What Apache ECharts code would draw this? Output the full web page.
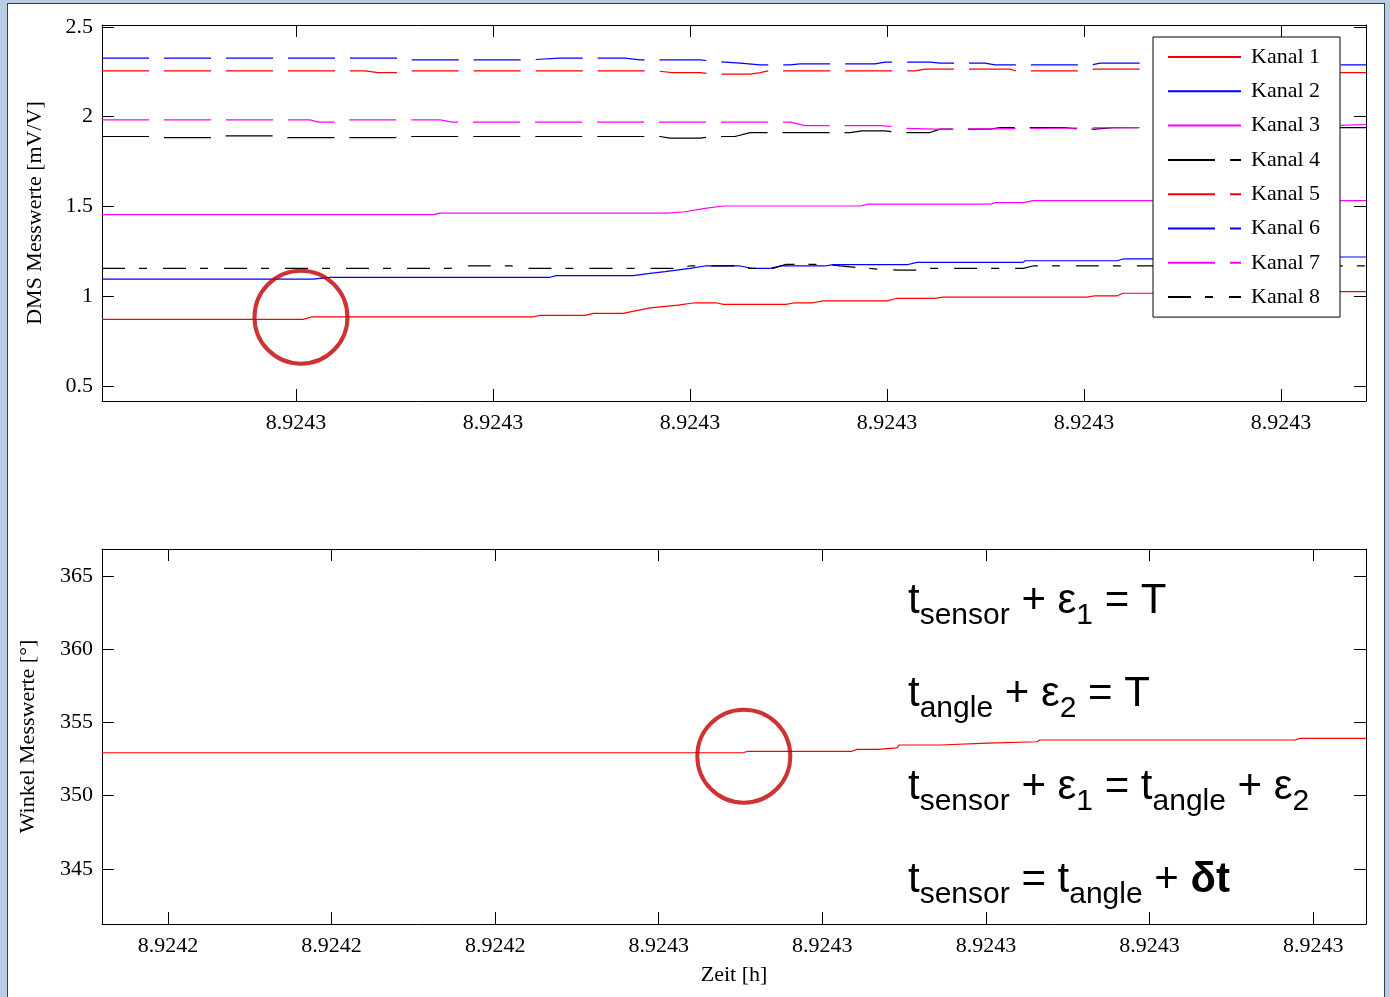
<!DOCTYPE html>
<html>
<head>
<meta charset="utf-8">
<script src="https://cdn.jsdelivr.net/npm/echarts@6/dist/echarts.min.js"></script>
<style>
  html, body { margin: 0; padding: 0; background: #b8cce4; overflow: hidden; }
  #frame { position: absolute; left: 7px; top: 3px; width: 1376px; height: 1000px; background: #fff; border: 1px solid #3c3c3c; }
  #chart { position: absolute; left: 0; top: 0; width: 1390px; height: 997px; }
</style>
</head>
<body>
<div id="frame"></div>
<div id="chart"></div>
<script>
// x is in tick units (tick index), labels come from the arrays below
const topXLabels = ['8.9243', '8.9243', '8.9243', '8.9243', '8.9243', '8.9243']
const bottomXLabels = ['8.9242', '8.9242', '8.9242', '8.9243', '8.9243', '8.9243', '8.9243', '8.9243']
const topYTicks = [0.5, 1, 1.5, 2, 2.5]
const bottomYTicks = [345, 350, 355, 360, 365]

const kanalNames = ['Kanal 1', 'Kanal 2', 'Kanal 3', 'Kanal 4', 'Kanal 5', 'Kanal 6', 'Kanal 7', 'Kanal 8']
const kanalColors = ['#ff0000', '#0000ff', '#ff00ff', '#000000', '#ff0000', '#0000ff', '#ff00ff', '#000000']

const kanal1 = [[-0.985,0.871],[0.036,0.871],[0.081,0.885],[1.203,0.885],[1.239,0.893],[1.467,0.893],[1.51,0.904],[1.66,0.904],[1.797,0.935],[1.939,0.950],[2.025,0.963],[2.132,0.963],[2.168,0.954],[2.487,0.954],[2.533,0.963],[2.624,0.963],[2.675,0.974],[3.0,0.974],[3.051,0.988],[3.244,0.988],[3.284,0.995],[4.015,0.995],[4.056,1.002],[4.168,1.002],[4.198,1.016],[4.8,1.016],[4.85,1.025],[5.431,1.025]]
const kanal2 = [[-0.985,1.095],[0.086,1.095],[0.173,1.105],[1.289,1.105],[1.320,1.114],[1.711,1.114],[1.797,1.127],[1.873,1.136],[2.0,1.155],[2.076,1.168],[2.254,1.168],[2.315,1.155],[2.406,1.155],[2.457,1.168],[2.685,1.168],[2.726,1.175],[3.102,1.175],[3.152,1.188],[3.690,1.188],[3.701,1.197],[4.168,1.197],[4.198,1.207],[4.7,1.207],[4.75,1.218],[5.431,1.218]]
const kanal3 = [[-0.985,1.454],[0.695,1.454],[0.731,1.462],[1.888,1.462],[1.975,1.470],[2.076,1.489],[2.168,1.502],[2.863,1.502],[2.904,1.512],[3.523,1.512],[3.55,1.521],[3.690,1.521],[3.741,1.532],[5.431,1.532]]
const kanal4 = [[-0.985,1.889],[-0.741,1.889],[-0.69,1.883],[-0.411,1.883],[-0.386,1.893],[-0.107,1.893],[-0.081,1.883],[0.5,1.883],[0.579,1.889],[1.848,1.889],[1.898,1.880],[2.05,1.880],[2.127,1.889],[2.228,1.889],[2.305,1.911],[2.812,1.911],[2.873,1.920],[2.99,1.920],[3.066,1.911],[3.218,1.911],[3.269,1.930],[3.523,1.930],[3.574,1.939],[3.904,1.939],[3.97,1.930],[4.056,1.930],[4.15,1.939],[5.431,1.939]]
const kanal5 = [[-0.985,2.255],[0.35,2.255],[0.416,2.245],[0.528,2.245],[0.569,2.255],[1.822,2.255],[1.909,2.245],[2.051,2.245],[2.112,2.236],[2.305,2.236],[2.355,2.245],[2.4,2.255],[3.142,2.255],[3.193,2.264],[3.624,2.264],[3.65,2.255],[3.98,2.255],[4.03,2.264],[4.843,2.264],[4.893,2.245],[5.431,2.245]]
const kanal6 = [[-0.985,2.326],[0.528,2.326],[0.553,2.316],[1.188,2.316],[1.34,2.326],[1.67,2.326],[1.746,2.316],[2.051,2.316],[2.127,2.307],[2.254,2.298],[2.355,2.288],[2.508,2.288],[2.558,2.294],[2.939,2.294],[2.99,2.303],[3.218,2.303],[3.269,2.298],[3.497,2.298],[3.548,2.288],[4.041,2.288],[4.081,2.298],[4.6,2.298],[4.7,2.288],[5.431,2.288]]
const kanal7 = [[-0.985,1.982],[0.071,1.982],[0.112,1.969],[0.213,1.969],[0.249,1.982],[0.731,1.982],[0.792,1.969],[2.508,1.969],[2.584,1.950],[2.964,1.950],[3.03,1.944],[3.091,1.935],[3.244,1.930],[3.523,1.932],[3.802,1.935],[4.5,1.940],[5.1,1.944],[5.431,1.956]]
const kanal8 = [[-0.985,1.155],[0.782,1.155],[0.858,1.168],[1.096,1.168],[1.137,1.155],[1.914,1.155],[2.0,1.168],[2.228,1.168],[2.279,1.155],[2.421,1.155],[2.487,1.177],[2.675,1.177],[2.761,1.168],[2.964,1.149],[3.066,1.145],[3.142,1.145],[3.218,1.155],[3.69,1.155],[3.741,1.168],[5.431,1.168]]

const winkel = [[-0.403,352.93],[3.515,352.93],[3.545,353.03],[4.181,353.03],[4.212,353.16],[4.34,353.16],[4.352,353.27],[4.456,353.27],[4.47,353.46],[4.719,353.46],[4.73,353.59],[5.012,353.59],[5.02,353.68],[5.312,353.68],[5.33,353.80],[6.889,353.80],[6.919,353.91],[7.323,353.91]]

// red marker circles (sync points)
const markTop = [[0.025, 0.883]]
const markBottom = [[3.52, 352.7]]

const formulaLines = [
  '{m|t}{s|sensor}{m| + ε}{s|1}{m| = T}',
  '{m|t}{s|angle}{m| + ε}{s|2}{m| = T}',
  '{m|t}{s|sensor}{m| + ε}{s|1}{m| = t}{s|angle}{m| + ε}{s|2}',
  '{m|t}{s|sensor}{m| = t}{s|angle}{m| + }{b|δt}'
]

const kanalData = [kanal1, kanal2, kanal3, kanal4, kanal5, kanal6, kanal7, kanal8]
const dashes = ['solid', 'solid', 'solid', [47, 15], [47, 15], [47, 15], [47, 15], [23, 14, 8, 16]]

const serif = 'Liberation Serif'
const sans = 'Liberation Sans'

function xAx(grid, min, max, ticks, labels, pos, name) {
  return {
    type: 'value', gridIndex: grid, position: pos, min: min, max: max,
    name: name || '', nameLocation: 'middle', nameGap: 40,
    nameTextStyle: { fontFamily: serif, fontSize: 22, color: '#000' },
    axisLine: { show: true, onZero: false, lineStyle: { color: '#000', width: 1 } },
    axisTick: { show: true, inside: true, length: 12, customValues: ticks, lineStyle: { color: '#000' } },
    axisLabel: {
      show: !!labels, customValues: ticks, margin: 11,
      fontFamily: serif, fontSize: 22, color: '#000',
      formatter: (v) => labels ? labels[Math.round(v)] : ''
    },
    splitLine: { show: false }
  }
}

function yAx(grid, min, max, ticks, showLabels, pos, name, gap) {
  return {
    type: 'value', gridIndex: grid, position: pos, min: min, max: max,
    name: name || '', nameLocation: 'middle', nameGap: gap || 50,
    nameTextStyle: { fontFamily: serif, fontSize: 22, color: '#000' },
    axisLine: { show: true, onZero: false, lineStyle: { color: '#000', width: 1 } },
    axisTick: { show: true, inside: true, length: 12, customValues: ticks, lineStyle: { color: '#000' } },
    axisLabel: {
      show: showLabels, customValues: ticks, margin: 9,
      fontFamily: serif, fontSize: 22, color: '#000'
    },
    splitLine: { show: false }
  }
}

const series = kanalData.map((d, i) => ({
  name: kanalNames[i],
  type: 'line',
  xAxisIndex: 0, yAxisIndex: 0,
  data: d,
  symbol: 'none',
  lineStyle: { color: kanalColors[i], width: 1.2, type: dashes[i] },
  itemStyle: { color: kanalColors[i] }
}))

series.push({
  name: 'Winkel', type: 'line', xAxisIndex: 2, yAxisIndex: 2,
  data: winkel, symbol: 'none',
  lineStyle: { color: '#ff0000', width: 1.2 }
})

const circleStyle = { color: 'rgba(0,0,0,0)', borderColor: '#c00000', borderWidth: 4 }
series.push({
  name: 'markTop', type: 'scatter', xAxisIndex: 0, yAxisIndex: 0, data: markTop,
  symbol: 'circle', symbolSize: 93, itemStyle: circleStyle, silent: true, z: 10
})
series.push({
  name: 'markBottom', type: 'scatter', xAxisIndex: 2, yAxisIndex: 2, data: markBottom,
  symbol: 'circle', symbolSize: 93, itemStyle: circleStyle, silent: true, z: 10
})

const rich = {
  m: { fontFamily: sans, fontSize: 42, lineHeight: 42, verticalAlign: 'top', color: '#000' },
  s: { fontFamily: sans, fontSize: 30, lineHeight: 30, verticalAlign: 'top', padding: [21, 0, 0, 0], color: '#000' },
  b: { fontFamily: sans, fontSize: 42, lineHeight: 42, verticalAlign: 'top', fontWeight: 'bold', color: '#000' }
}

const option = {
  animation: false,
  backgroundColor: 'transparent',
  grid: [
    { left: 102, top: 25, width: 1264, height: 376 },
    { left: 102, top: 549, width: 1264, height: 375 }
  ],
  xAxis: [
    xAx(0, -0.985, 5.431, [0, 1, 2, 3, 4, 5], topXLabels, 'bottom'),
    xAx(0, -0.985, 5.431, [0, 1, 2, 3, 4, 5], null, 'top'),
    xAx(1, -0.403, 7.323, [0, 1, 2, 3, 4, 5, 6, 7], bottomXLabels, 'bottom', 'Zeit [h]'),
    xAx(1, -0.403, 7.323, [0, 1, 2, 3, 4, 5, 6, 7], null, 'top')
  ],
  yAxis: [
    yAx(0, 0.416, 2.51, topYTicks, true, 'left', 'DMS Messwerte [mV/V]', 56),
    yAx(0, 0.416, 2.51, topYTicks, false, 'right'),
    yAx(1, 341.24, 366.84, bottomYTicks, true, 'left', 'Winkel Messwerte [°]', 63),
    yAx(1, 341.24, 366.84, bottomYTicks, false, 'right')
  ],
  legend: {
    data: kanalNames,
    orient: 'vertical',
    left: 1153, top: 37,
    itemWidth: 73, itemHeight: 20, itemGap: 12.3,
    padding: [9, 20, 9, 14],
    backgroundColor: '#fff', borderColor: '#000', borderWidth: 1, borderRadius: 0,
    itemStyle: { color: 'rgba(0,0,0,0)', borderColor: 'rgba(0,0,0,0)', borderWidth: 0 },
    textStyle: { fontFamily: serif, fontSize: 22, color: '#000', padding: [0, 0, 0, 5] }
  },
  graphic: formulaLines.map((t, i) => ({
    type: 'text', left: 908, top: 580 + i * 93, z: 20,
    style: { text: t, rich: rich }
  })),
  series: series
}

const chart = echarts.init(document.getElementById('chart'))
chart.setOption(option)
</script>
</body>
</html>
